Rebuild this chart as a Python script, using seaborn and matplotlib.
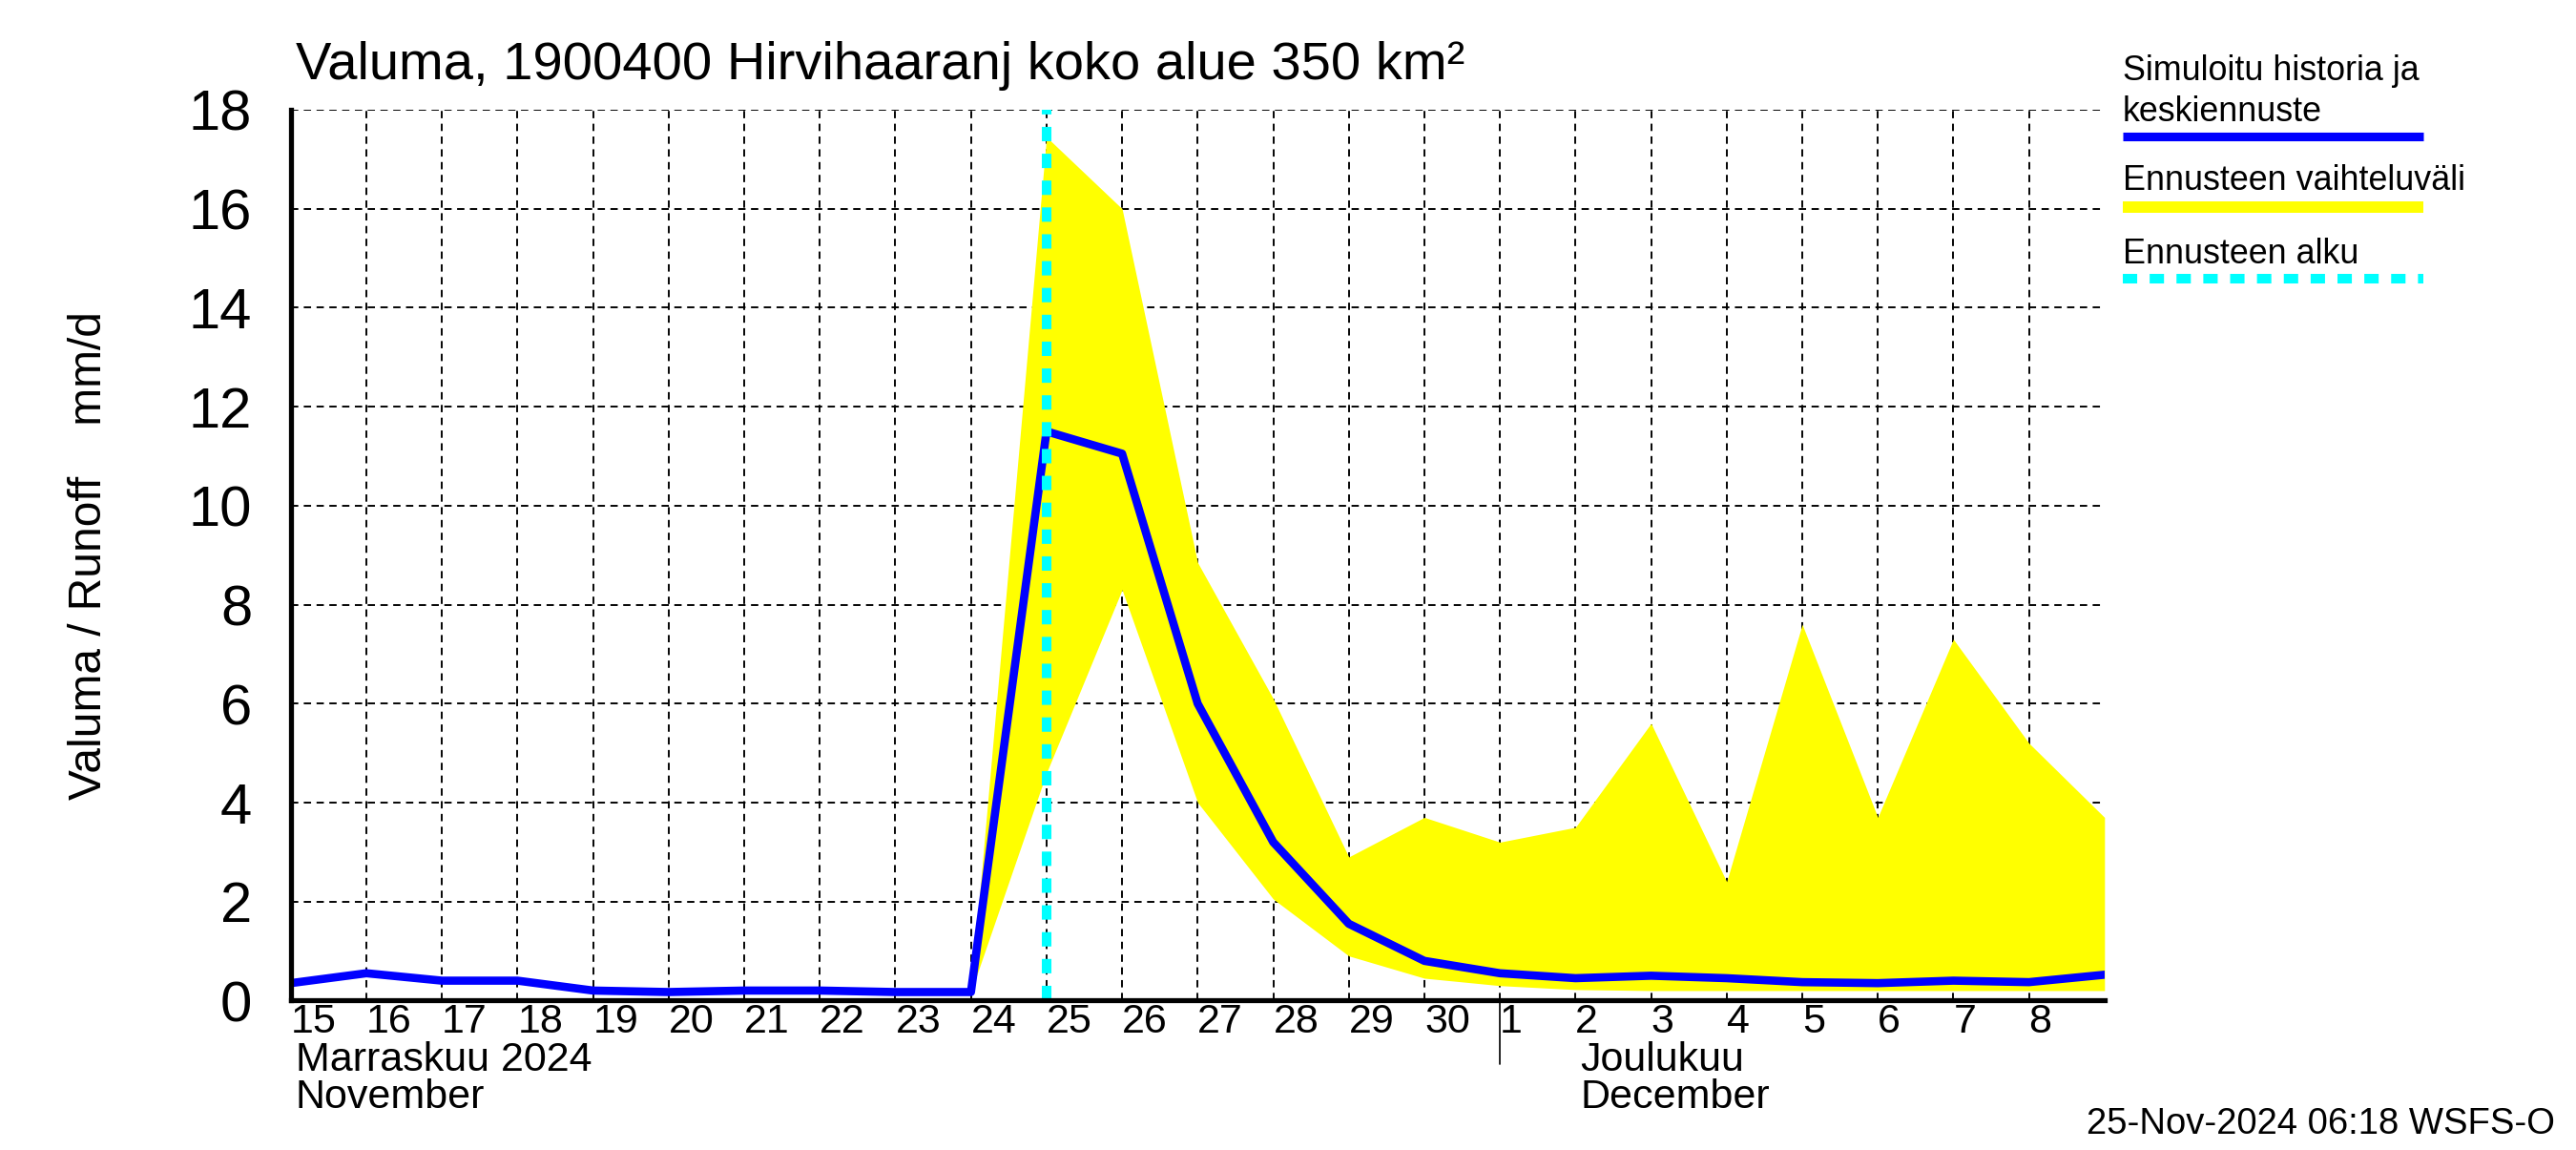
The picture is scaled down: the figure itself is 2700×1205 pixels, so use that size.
import matplotlib
matplotlib.use("Agg")
import matplotlib.pyplot as plt
from matplotlib.lines import Line2D
from matplotlib.transforms import ScaledTranslation
import seaborn as sns
import pandas as pd

# simulated history + mean forecast, one value per day at 00:00
sim_dates = pd.date_range("2024-11-15", "2024-12-09", freq="D")
sim_values = [0.35, 0.55, 0.40, 0.40, 0.20, 0.17, 0.20, 0.20, 0.17, 0.17,
              11.5, 11.05, 6.0, 3.2, 1.55, 0.8, 0.55, 0.45, 0.5, 0.45,
              0.37, 0.35, 0.4, 0.37, 0.52]

# forecast range (starts from last history value)
band_dates = pd.date_range("2024-11-24", "2024-12-09", freq="D")
band_upper = [0.17, 17.45, 16.0, 8.85, 6.1, 2.9, 3.7, 3.2, 3.5, 5.6, 2.4,
              7.6, 3.7, 7.3, 5.2, 3.7]
band_lower = [0.17, 4.6, 8.3, 4.0, 2.05, 0.9, 0.45, 0.3, 0.22, 0.2, 0.2,
              0.2, 0.2, 0.2, 0.2, 0.2]

forecast_start = pd.Timestamp("2024-11-25")
day_labels = [str(d.day) for d in pd.date_range("2024-11-15", "2024-12-08", freq="D")]

title = "Valuma, 1900400 Hirvihaaranj koko alue 350 km²"
ylabel = "Valuma / Runoff    mm/d"
legend_labels = ["Simuloitu historia ja", "keskiennuste", "Ennusteen vaihteluväli", "Ennusteen alku"]
footer = "25-Nov-2024 06:18 WSFS-O"

sns.set_theme(style="white")
plt.rcParams["font.family"] = ["Liberation Sans", "DejaVu Sans"]
for k in ["text.color", "axes.labelcolor", "xtick.color", "ytick.color"]:
    plt.rcParams[k] = "black"
narrow = ["Liberation Sans Narrow", "Liberation Sans", "DejaVu Sans"]

W, H = 1568, 700
fig = plt.figure(figsize=(W / 100, H / 100), dpi=2700 / (W / 100))
ax = fig.add_axes([177 / W, 1 - 609 / H, (1281 - 177) / W, (609 - 67) / H])

sim = pd.DataFrame({"date": sim_dates, "value": sim_values})
ax.fill_between(band_dates, band_lower, band_upper, color="#FFFF00", lw=0, zorder=2)
sns.lineplot(data=sim, x="date", y="value", ax=ax, color="#0000FF", lw=3.6, zorder=4)
ax.axvline(forecast_start, color="#00FFFF", lw=4.2, dashes=(1.5, 1.3),
           dash_capstyle="butt", zorder=5)

ax.set_xlim(pd.Timestamp("2024-11-15"), pd.Timestamp("2024-12-09"))
ax.set_ylim(0, 18)
ax.set_yticks(range(0, 19, 2))
ticks = pd.date_range("2024-11-15", "2024-12-08", freq="D")
ax.set_xticks(ticks)
ax.set_xticklabels(day_labels, ha="left", family=narrow, fontsize=18)
for lab in ax.get_xticklabels():
    lab.set_transform(lab.get_transform() + ScaledTranslation(2 / 72, 0, fig.dpi_scale_trans))
ax.tick_params(axis="x", direction="out", length=15, width=0.7, pad=-14, color="black")
ax.tick_params(axis="y", direction="in", length=7, width=1.5, pad=17, labelsize=25)
ax.set_xlabel("")
ax.set_ylabel(ylabel, fontsize=20, labelpad=34)

ax.grid(True, color="black", lw=0.8, linestyle=(0, (4, 3)))
for s in ["top", "right"]:
    ax.spines[s].set_visible(False)
for s in ["left", "bottom"]:
    ax.spines[s].set_color("black")
    ax.spines[s].set_linewidth(2.2)
    ax.spines[s].set_zorder(6)

# month labels and separator
ax.plot([pd.Timestamp("2024-12-01")] * 2, [0, -39 / 542], color="black", lw=0.7,
        transform=ax.get_xaxis_transform(), clip_on=False)
for d, lines in [("2024-11-15", ["Marraskuu 2024", "November"]),
                 ("2024-12-02", ["Joulukuu", "December"])]:
    for i, t in enumerate(lines):
        ax.annotate(t, xy=(pd.Timestamp(d), 0), xycoords=("data", "axes fraction"),
                    xytext=(2, -26 - i * 16.5), textcoords="offset points",
                    ha="left", va="center", fontsize=18, family=narrow)

fig.text(180 / W, 1 - 40 / H, title, fontsize=23.5, va="center", ha="left")

# legend
x0, x1 = 1292 / W, 1475 / W
fig.text(x0, 1 - 43 / H, legend_labels[0], fontsize=15, va="center")
fig.text(x0, 1 - 68 / H, legend_labels[1], fontsize=15, va="center")
fig.add_artist(Line2D([x0, x1], [1 - 83 / H] * 2, color="#0000FF", lw=3.8,
                      solid_capstyle="butt", transform=fig.transFigure))
fig.text(x0, 1 - 110 / H, legend_labels[2], fontsize=15, va="center")
fig.add_artist(Line2D([x0, x1], [1 - 126 / H] * 2, color="#FFFF00", lw=5,
                      solid_capstyle="butt", transform=fig.transFigure))
fig.text(x0, 1 - 155 / H, legend_labels[3], fontsize=15, va="center")
fig.add_artist(Line2D([x0, x1], [1 - 170 / H] * 2, color="#00FFFF", lw=4.2,
                      dashes=(1.5, 1.3), dash_capstyle="butt", transform=fig.transFigure))

fig.text(1555 / W, 1 - 684 / H, footer, fontsize=16, ha="right", va="center", family=narrow)

fig.savefig("out.png", facecolor="white")
